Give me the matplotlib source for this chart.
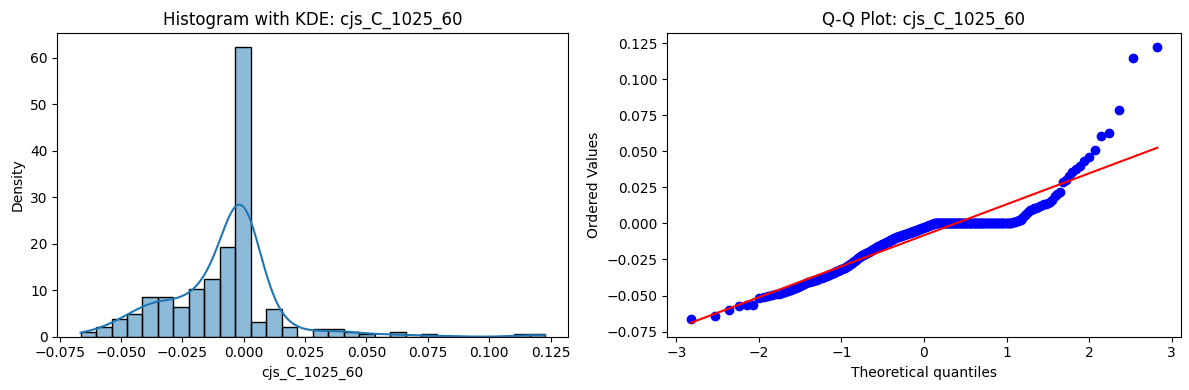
from statistics import NormalDist

import matplotlib
matplotlib.use("Agg")
import matplotlib.pyplot as plt
import numpy as np
import seaborn as sns

# Column shown in both panels.
name = "cjs_C_1025_60"

# Values, grouped roughly by histogram bin
# (lowest values first).

low_tail = [
    -0.0665, -0.0644,
    -0.0600, -0.0574, -0.0569, -0.0568,
    -0.0520, -0.0512, -0.0505, -0.0498, -0.0492, -0.0487, -0.0481,
    -0.0474, -0.0468, -0.0462, -0.0456, -0.0449, -0.0441, -0.0433, -0.0425, -0.0418,
]

shoulder = [
    -0.0411, -0.0407, -0.0404, -0.0400, -0.0396, -0.0393, -0.0389, -0.0386,
    -0.0382, -0.0378, -0.0374, -0.0371, -0.0367, -0.0362, -0.0358, -0.0353,
    -0.0348, -0.0344, -0.0341, -0.0337, -0.0333, -0.0330, -0.0326, -0.0322,
    -0.0318, -0.0314, -0.0310, -0.0306, -0.0302, -0.0298, -0.0294, -0.0290,
    -0.0284, -0.0279, -0.0274, -0.0269, -0.0264, -0.0259,
    -0.0253, -0.0248, -0.0242, -0.0236, -0.0231, -0.0226,
]

near_peak = [
    -0.0222, -0.0219, -0.0215, -0.0212, -0.0209, -0.0205, -0.0202, -0.0199,
    -0.0195, -0.0192, -0.0188, -0.0185, -0.0181, -0.0178, -0.0175, -0.0172,
    -0.0168, -0.0165, -0.0162,
    -0.0159, -0.0156, -0.0154, -0.0151, -0.0148, -0.0146, -0.0143, -0.0140,
    -0.0137, -0.0135, -0.0132, -0.0129, -0.0126, -0.0124, -0.0121, -0.0118,
    -0.0115, -0.0113, -0.0110, -0.0107, -0.0104, -0.0102, -0.0099,
    -0.0096, -0.0094, -0.0093, -0.0091, -0.0089, -0.0087,
    -0.0086, -0.0084, -0.0082, -0.0080, -0.0079, -0.0077,
    -0.0075, -0.0073, -0.0072, -0.0070, -0.0068, -0.0066,
    -0.0065, -0.0063, -0.0061, -0.0059, -0.0058, -0.0056,
    -0.0054, -0.0052, -0.0051, -0.0049, -0.0047, -0.0045,
    -0.0044, -0.0042, -0.0040, -0.0038, -0.0037, -0.0035,
    -0.0033, -0.0031, -0.0029, -0.0027, -0.0025, -0.0024,
    -0.0022, -0.0020, -0.0018, -0.0016, -0.0014, -0.0012,
    -0.0010, -0.0008, -0.0007, -0.0005, -0.0003, -0.0002,
]

# The long flat run at exactly zero in the Q-Q plot.
zeros = [0.0] * 88

high_tail = [
    0.0002, 0.0003, 0.0005, 0.0007, 0.0009, 0.0012, 0.0015, 0.0019, 0.0023, 0.0027,
    0.0035, 0.0046, 0.0058, 0.0069, 0.0080, 0.0090,
    0.0095, 0.0100, 0.0104, 0.0108, 0.0113, 0.0119, 0.0125, 0.0132, 0.0138,
    0.0144, 0.0150,
    0.0165, 0.0190, 0.0205, 0.0215,
    0.0285, 0.0305, 0.0330,
    0.0360, 0.0380, 0.0400,
    0.0430, 0.0460,
    0.0510,
    0.0610, 0.0625,
    0.0785,
    0.1150, 0.1228,
]

values = np.array(low_tail + shoulder + near_peak + zeros + high_tail)

fig = plt.figure(figsize=(11.89, 3.9))
ax_hist = fig.add_axes([0.0482, 0.1367, 0.4298, 0.7795])
ax_qq = fig.add_axes([0.5612, 0.1367, 0.4318, 0.7795])

# Histogram with KDE.

sns.histplot(values, bins=30, kde=True, stat="density", ax=ax_hist)
ax_hist.set_title(f"Histogram with KDE: {name}")
ax_hist.set_xlabel(name)

# Q-Q plot against the normal distribution (same positions as scipy's probplot).

n = len(values)
ordered = np.sort(values)
probs = (np.arange(1, n + 1) - 0.3175) / (n + 0.365)
probs[-1] = 0.5 ** (1.0 / n)
probs[0] = 1 - probs[-1]
theoretical = np.array([NormalDist().inv_cdf(p) for p in probs])

slope, intercept = np.polyfit(theoretical, ordered, 1)

ax_qq.plot(theoretical, ordered, "bo")
ax_qq.plot(theoretical, slope * theoretical + intercept, "r-")
ax_qq.set_title(f"Q-Q Plot: {name}")
ax_qq.set_xlabel("Theoretical quantiles")
ax_qq.set_ylabel("Ordered Values")

plt.savefig("out.png", dpi=100)
